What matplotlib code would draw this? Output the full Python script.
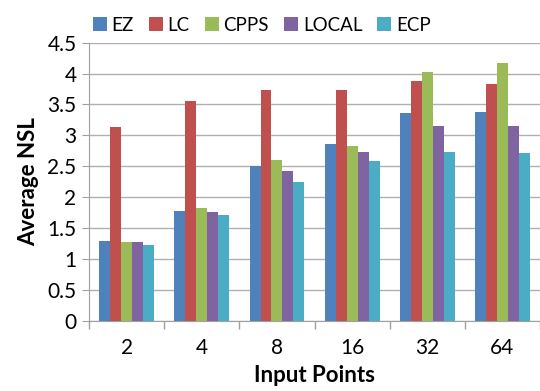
import numpy as np
import matplotlib.pyplot as plt

points = ['2', '4', '8', '16', '32', '64']
series = ['EZ', 'LC', 'CPPS', 'LOCAL', 'ECP']
ez = [1.30, 1.78, 2.50, 2.86, 3.37, 3.38]
lc = [3.13, 3.55, 3.74, 3.74, 3.88, 3.83]
cpps = [1.28, 1.83, 2.61, 2.83, 4.03, 4.17]
local = [1.28, 1.76, 2.42, 2.74, 3.15, 3.15]
ecp = [1.23, 1.71, 2.25, 2.58, 2.74, 2.72]
colors = ['#4F81BD', '#C0504D', '#9BBB59', '#8064A2', '#4BACC6']

plt.rcParams['font.family'] = ['Lato', 'DejaVu Sans']

fig = plt.figure(figsize=(5.4, 3.91), dpi=100)
ax = fig.add_axes([0.165, 0.179, 0.835, 0.712])

x = np.arange(len(points))
w = 0.146
for i, (name, vals) in enumerate(zip(series, [ez, lc, cpps, local, ecp])):
    ax.bar(x + (i - 2) * w, vals, w, color=colors[i], label=name, zorder=3)

ax.set_xlim(-0.5, len(points) - 0.5)
ax.set_ylim(0, 4.5)
ax.set_yticks(np.arange(0, 4.51, 0.5))
ax.set_yticklabels(['0', '0.5', '1', '1.5', '2', '2.5', '3', '3.5', '4', '4.5'])
ax.yaxis.grid(True, color='#b0b0b0', linewidth=1, zorder=0)

ax.set_xticks(x)
ax.set_xticklabels(points)
ax.set_xticks(np.arange(-0.5, len(points)), minor=True)
ax.tick_params(axis='x', which='major', length=0, labelsize=15, pad=12)
ax.tick_params(axis='x', which='minor', length=6, color='#a0a0a0', width=1)
ax.tick_params(axis='y', length=5, color='#a0a0a0', labelsize=15, pad=4)

for s in ['top', 'right']:
    ax.spines[s].set_visible(False)
for s in ['left', 'bottom']:
    ax.spines[s].set_color('#a0a0a0')

ax.set_xlabel('Input Points', fontsize=16, fontweight='bold', labelpad=5)
ax.set_ylabel('Average NSL', fontsize=16, fontweight='bold', labelpad=6)

fig.legend(loc='upper center', bbox_to_anchor=(0.485, 1.0), ncol=5, frameon=False,
           fontsize=13.5, handlelength=0.75, handleheight=0.75, handletextpad=0.25,
           columnspacing=0.8)

fig.savefig('out.png', dpi=100)
